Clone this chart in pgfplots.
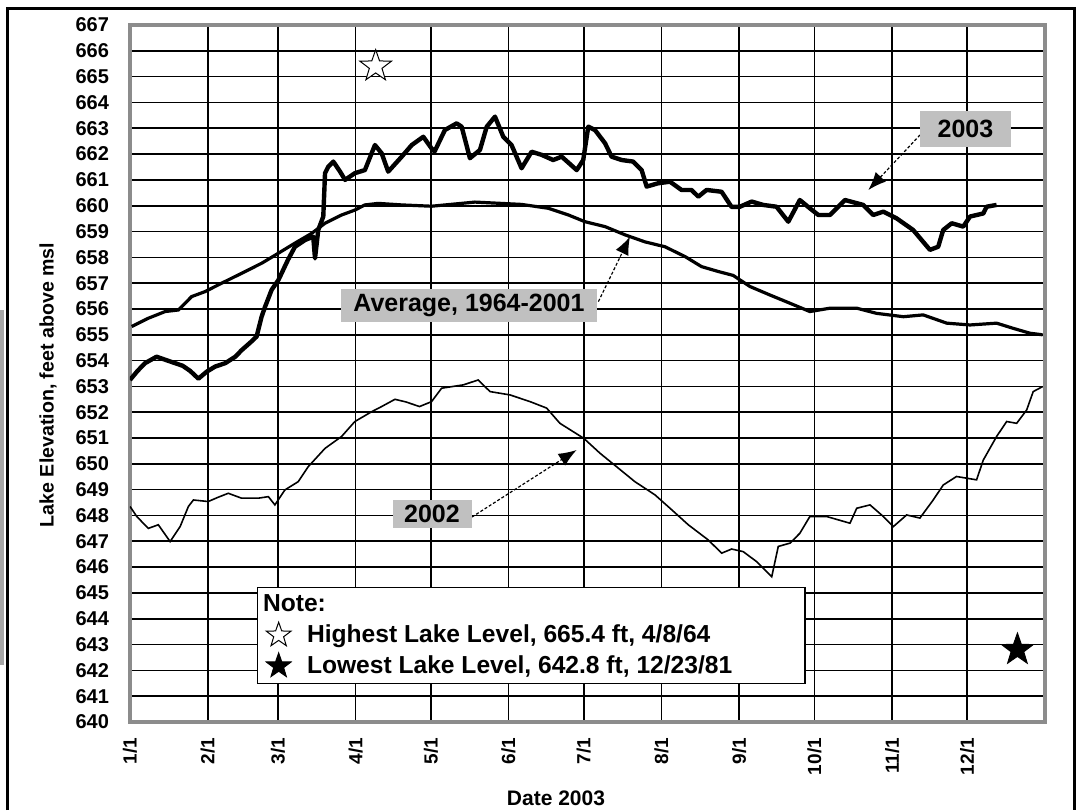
\documentclass[border=0pt]{standalone}
\usepackage{fontspec}
\setmainfont{Liberation Sans}
\usepackage{pgfplots}
\pgfplotsset{compat=1.18}
\usetikzlibrary{arrows.meta}
\definecolor{boxgray}{HTML}{C0C0C0}
\definecolor{bordergray}{HTML}{8C8C8C}
\pgfdeclareplotmark{fivestar}{%
 \pgfpathmoveto{\pgfpointpolar{90}{\pgfplotmarksize}}%
 \pgfpathlineto{\pgfpointpolar{126}{0.4\pgfplotmarksize}}%
 \pgfpathlineto{\pgfpointpolar{162}{\pgfplotmarksize}}%
 \pgfpathlineto{\pgfpointpolar{198}{0.4\pgfplotmarksize}}%
 \pgfpathlineto{\pgfpointpolar{234}{\pgfplotmarksize}}%
 \pgfpathlineto{\pgfpointpolar{270}{0.4\pgfplotmarksize}}%
 \pgfpathlineto{\pgfpointpolar{306}{\pgfplotmarksize}}%
 \pgfpathlineto{\pgfpointpolar{342}{0.4\pgfplotmarksize}}%
 \pgfpathlineto{\pgfpointpolar{18}{\pgfplotmarksize}}%
 \pgfpathlineto{\pgfpointpolar{54}{0.4\pgfplotmarksize}}%
 \pgfpathclose
 \pgfusepathqfillstroke}
\begin{document}
\begin{tikzpicture}
\useasboundingbox (0,0) rectangle (541.5pt,405pt);
\begin{axis}[
  at={(65pt,44pt)}, anchor=south west,
  scale only axis, width=457.5pt, height=348.5pt,
  xmin=0, xmax=365, ymin=640, ymax=667,
  xtick={0,31,59,90,120,151,181,212,243,273,304,334},
  xticklabels={1/1,2/1,3/1,4/1,5/1,6/1,7/1,8/1,9/1,10/1,11/1,12/1},
  ytick={640,641,...,667},
  scaled y ticks=false,
  /pgf/number format/assume math mode=true,
  /pgf/number format/1000 sep={},
  yticklabel style={font=\bfseries\fontsize{10}{12}\selectfont, xshift=-7pt},
  xticklabel style={font=\bfseries\fontsize{9.5}{12}\selectfont, yshift=-4.5pt, rotate=90, anchor=east},
  major tick length=0pt,
  grid=major,
  major grid style={black, line width=0.8pt},
  axis line style={draw=bordergray, line width=2pt},
  legend style={at={(axis description cs:0.1388,0.0545)}, anchor=south west,
    draw=black, line width=0.6pt, fill=white,
    font=\bfseries\fontsize{12.3}{14}\selectfont,
    inner xsep=2pt, inner ysep=1.5pt, row sep=1pt, column sep=6pt, cells={anchor=west}},
  legend image post style={mark size=6.5pt},
]
% 2002
\addplot[black, line width=0.8pt, forget plot] coordinates {
(0,648.35) (2.7,647.96) (7.3,647.5) (11.3,647.64) (16,646.99) (20,647.57)
(23.3,648.35) (25.3,648.6) (31.2,648.54) (35,648.7) (39.2,648.86) (44.5,648.67)
(51.2,648.67) (55.2,648.73) (57.8,648.41) (61.8,648.99) (67.1,649.31) (71.1,649.89)
(77.8,650.6) (84.4,651.06) (89.7,651.64) (96.4,652.02) (100,652.2) (105.7,652.5)
(110,652.4) (115.5,652.22) (120.3,652.41) (124.3,652.93) (133,653.06) (138.9,653.25)
(143.6,652.8) (151.6,652.67) (159.6,652.41) (166.2,652.16) (171.5,651.57) (181,650.99)
(187.5,650.41) (193.2,649.96) (201.4,649.31) (209.4,648.8) (216.1,648.22) (222.7,647.64)
(230.7,647.05) (236,646.54) (240,646.7) (244.6,646.6) (250,646.21) (256,645.63)
(258.6,646.8) (263.3,646.93) (267.2,647.31) (271.2,647.96) (277.9,647.96) (287.2,647.7)
(289.9,648.28) (295.2,648.41) (300.5,647.96) (304.5,647.57) (309.8,648.02) (315.1,647.9)
(320.4,648.6) (324.4,649.18) (329.7,649.51) (337.7,649.38) (340.4,650.15) (345.7,651.06)
(349.7,651.64) (353.7,651.57) (357.7,652.09) (360.3,652.8) (364,652.99)
};
% Average 1964-2001
\addplot[black, line width=1.6pt, forget plot] coordinates {
(0.7,655.32) (7.3,655.64) (14,655.9) (19.3,655.96) (24.6,656.48) (29.9,656.67)
(36.6,657.0) (44.5,657.38) (52.5,657.77) (59.2,658.16) (65.8,658.55) (72.5,658.93)
(77.8,659.32) (84.4,659.64) (89.7,659.83) (93.7,660.03) (99,660.09) (108.4,660.03)
(120.3,659.98) (137.6,660.14) (156.2,660.05) (166.9,659.9) (174.9,659.64) (181.5,659.38)
(189.5,659.19) (197.5,658.87) (205.4,658.6) (213.4,658.41) (221.4,658.03) (228,657.64)
(234.7,657.45) (240.6,657.3) (247.3,656.87) (255.3,656.54) (263.3,656.22) (271.2,655.9)
(279.2,656.03) (289.9,656.03) (297.8,655.83) (308.5,655.7) (316.4,655.77) (325.8,655.45)
(335.1,655.38) (345.7,655.45) (352.3,655.25) (359,655.06) (364,655.0)
};
% 2003
\addplot[black, line width=2.2pt, line join=round, forget plot] coordinates {
(0,653.25) (3,653.6) (6,653.9) (10.6,654.15) (15,654.0) (21,653.8) (24,653.6)
(27.3,653.3) (30.6,653.57) (34,653.77) (38,653.9) (42,654.15) (44.5,654.4) (48,654.7)
(50.5,654.93) (52.5,655.7) (53.9,656.09) (56.5,656.74) (59.2,657.12) (63,657.9)
(65.8,658.41) (69.8,658.67) (73.1,658.8) (73.8,657.96) (75.1,659.06) (77.1,659.58)
(77.8,661.26) (79.1,661.51) (81.1,661.71) (83.8,661.32) (85.8,661.0) (89.7,661.26)
(93.7,661.38) (97.7,662.35) (100.4,662.03) (103,661.32) (108.4,661.9) (112.4,662.35)
(117,662.67) (120.3,662.22) (121.5,662.1) (125.6,662.93) (130.3,663.19) (132.3,663.06)
(135.6,661.84) (139.6,662.16) (142.3,663.06) (145.6,663.45) (148.9,662.67) (152.2,662.35)
(156.2,661.45) (160.2,662.09) (164.2,661.97) (168.8,661.77) (172.2,661.9) (178.2,661.38)
(180.8,661.77) (182.8,663.06) (185.5,662.93) (189.5,662.42) (192.1,661.9) (196.1,661.77)
(200.7,661.71) (204.1,661.38) (206.1,660.74) (210.7,660.87) (215.4,660.93) (220,660.61)
(224,660.61) (226.7,660.35) (230,660.61) (236,660.54) (240,659.95) (243.3,659.96)
(248,660.16) (252.6,660.03) (257.9,659.96) (262.6,659.38) (267.2,660.22) (271.2,659.9)
(274.6,659.64) (279.2,659.64) (285.2,660.22) (292.5,660.03) (296.5,659.64) (300.5,659.77)
(305.8,659.51) (312.4,659.06) (316.4,658.6) (319.1,658.29) (322.4,658.41) (324.4,659.06)
(327.8,659.32) (332.4,659.19) (335.1,659.58) (340.4,659.7) (341.7,659.96) (345.7,660.03)
};
\addlegendimage{empty legend}
\addlegendentry{\hspace*{-22pt}Note:}
\addplot[only marks, mark=fivestar, mark size=8.3pt, mark options={fill=white, draw=black, line width=0.5pt}] coordinates {(98,665.4)};
\addlegendentry{\makebox[245pt][l]{Highest Lake Level, 665.4 ft, 4/8/64}}
\addplot[only marks, mark=fivestar, mark size=8.3pt, mark options={fill=black, draw=black, line width=0.5pt}] coordinates {(354,642.8)};
\addlegendentry{\makebox[245pt][l]{Lowest Lake Level, 642.8 ft, 12/23/81}}
\end{axis}
% annotation labels
\tikzset{lab/.style={fill=boxgray, inner sep=0pt, font=\bfseries\fontsize{12.5}{14}\selectfont},
  arr/.style={black, line width=0.6pt, dash pattern=on 1.5pt off 1pt, -{Latex[length=9pt,width=7pt]}}}
\draw[arr] (460pt,337.5pt) -- (434.2pt,310pt);
\node[lab, minimum width=45.5pt, minimum height=18pt] at (482.75pt,340.5pt) {2003};
\draw[arr] (299.2pt,254.2pt) -- (315pt,286.7pt);
\node[lab, minimum width=128.4pt, minimum height=16.1pt] at (234.5pt,252.2pt) {Average, 1964-2001};
\draw[arr] (236pt,146.5pt) -- (288.3pt,180pt);
\node[lab, minimum width=39.5pt, minimum height=14.2pt] at (216pt,148pt) {2002};
% axis titles
\node[rotate=90, font=\bfseries\fontsize{9.8}{12}\selectfont] at (24pt,212.5pt) {Lake Elevation, feet above msl};
\node[font=\bfseries\fontsize{10.5}{12}\selectfont] at (278pt,6pt) {Date 2003};
% outer frame
\draw[line width=1.5pt] (3.5pt,0) -- (3.5pt,400.75pt) -- (537.25pt,400.75pt) -- (537.25pt,0);
\fill[gray!70] (0,72.5pt) rectangle (2pt,250pt);
\end{tikzpicture}
\end{document}
